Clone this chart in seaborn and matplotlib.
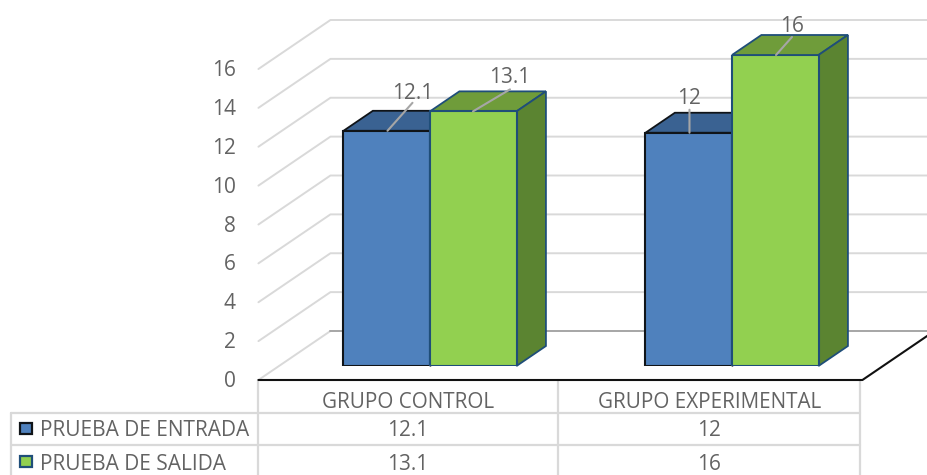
import matplotlib
matplotlib.use("Agg")
import matplotlib.pyplot as plt
import pandas as pd
import seaborn as sns
from matplotlib.patches import Polygon, Rectangle
from matplotlib.transforms import Affine2D

categories = ["GRUPO CONTROL", "GRUPO EXPERIMENTAL"]
series_names = ["PRUEBA DE ENTRADA", "PRUEBA DE SALIDA"]
entrada = [12.1, 12]
salida = [13.1, 16]
value_labels = ["12.1", "12", "13.1", "16"]
y_ticks = [0, 2, 4, 6, 8, 10, 12, 14, 16]

W, H = 927, 475
TEXT = "#636363"
GRID = "#d9d9d9"
SLOPE = 1.47
FLOOR_FRONT = -14
FLOOR_BACK = 35
BAR_DEPTH = 20

front_cols = ["#4f81bd", "#92d050"]
top_cols = ["#3a6292", "#6f9c3a"]
side_cols = ["#34597f", "#5b8431"]
edge_cols = ["#101418", "#1f4e79"]

df = pd.DataFrame({
    "grupo": categories * 2,
    "prueba": [series_names[0]] * 2 + [series_names[1]] * 2,
    "valor": entrada + salida,
})

sns.set_theme(style="white")
plt.rcParams["font.family"] = ["Open Sans", "DejaVu Sans"]

fig = plt.figure(figsize=(W / 100, H / 100), dpi=100, facecolor="w")
# axes = plane of the bars' front faces
ax = fig.add_axes([279 / W, (H - 366) / H, 604 / W, 311 / H])
ax.patch.set_alpha(0)
sns.barplot(data=df, x="grupo", y="valor", hue="prueba", order=categories,
            hue_order=series_names, palette=front_cols, width=0.573, gap=0,
            saturation=1, legend=False, ax=ax, zorder=3)
ax.set_xlim(-0.5, 1.5)
ax.set_ylim(0, 16)
for s in ax.spines.values():
    s.set_visible(False)
ax.set_xlabel("")
ax.set_ylabel("")


def at_depth(d):
    # data transform pushed back by d pixels along the oblique axis
    return ax.transData + Affine2D().translate(SLOPE * d, d)


# walls: grid lines on the left wall and back wall
for v in y_ticks[1:]:
    p0 = at_depth(FLOOR_FRONT).transform((-0.5, v))
    p1 = at_depth(FLOOR_BACK).transform((-0.5, v))
    p2 = at_depth(FLOOR_BACK).transform((1.5, v))
    fig.add_artist(plt.Line2D([p0[0] / W, p1[0] / W, p2[0] / W],
                              [p0[1] / H, p1[1] / H, p2[1] / H],
                              color=GRID, lw=1.4, zorder=0))

# floor
p0 = at_depth(FLOOR_FRONT).transform((-0.5, 0))
p1 = at_depth(FLOOR_BACK).transform((-0.5, 0))
p2 = at_depth(FLOOR_BACK).transform((1.5, 0))
p3 = at_depth(FLOOR_FRONT).transform((1.5, 0))
fig.add_artist(plt.Line2D([p0[0] / W, p1[0] / W], [p0[1] / H, p1[1] / H],
                          color=GRID, lw=1.4, zorder=0))
fig.add_artist(plt.Line2D([p1[0] / W, p2[0] / W], [p1[1] / H, p2[1] / H],
                          color="#a6a6a6", lw=1.4, zorder=0))
fig.add_artist(plt.Line2D([p0[0] / W, p3[0] / W, p2[0] / W],
                          [p0[1] / H, p3[1] / H, p2[1] / H],
                          color="#111111", lw=1.5, zorder=1))

# bar tops and sides, taken from the bars seaborn drew
bars = [b for b in ax.patches if b.get_height() > 0]
for i, bar in enumerate(bars):
    k = i // 2
    x0, x1 = bar.get_x(), bar.get_x() + bar.get_width()
    h = bar.get_height()
    bar.set_edgecolor(edge_cols[k])
    bar.set_linewidth(1.5)
    bar.set_zorder(3 + k)
    back = at_depth(BAR_DEPTH)
    front = ax.transData
    top = [front.transform((x0, h)), front.transform((x1, h)),
           back.transform((x1, h)), back.transform((x0, h))]
    side = [front.transform((x1, 0)), front.transform((x1, h)),
            back.transform((x1, h)), back.transform((x1, 0))]
    for pts, col in ((top, top_cols[k]), (side, side_cols[k])):
        fig_pts = [(px / W, py / H) for px, py in pts]
        poly = Polygon(fig_pts, closed=True, transform=fig.transFigure,
                       facecolor=col, edgecolor=edge_cols[k], lw=1.3)
        poly.set_clip_on(False)
        poly.set_zorder(2.5 + k)
        ax.add_patch(poly)

# data labels with leader lines: (leader start dx, leader end dx, dy, label dx, dy)
leaders = [(44, 69, 28, 69, 37), (44, 44, 23, 44, 34),
           (43, 80, 22, 80, 34), (44, 60, 18, 60, 28)]
for bar, txt, (dx0, dx1, dy1, tx, ty) in zip(bars, value_labels, leaders):
    x0 = ax.transData.transform((bar.get_x(), bar.get_height()))
    ax.annotate("", xy=(x0[0] + dx1, x0[1] + dy1), xytext=(x0[0] + dx0, x0[1]),
                xycoords="figure pixels", textcoords="figure pixels",
                arrowprops=dict(arrowstyle="-", color="#a6a6a6", lw=1.5,
                                shrinkA=0, shrinkB=0), zorder=8, annotation_clip=False)
    ax.annotate(txt, xy=(x0[0] + tx, x0[1] + ty), xycoords="figure pixels",
                ha="center", va="center", fontsize=15, color=TEXT, zorder=9,
                annotation_clip=False)

# y tick labels sit on the front edge of the left wall
ax.set_yticks(y_ticks)
ax.tick_params(axis="y", length=0, pad=31, labelsize=15, labelcolor=TEXT)
for lab in ax.get_yticklabels():
    lab.set_transform(lab.get_transform() + Affine2D().translate(0, FLOOR_FRONT + 1))

# category labels form the table's header row, centred on the table cells
ax.set_xticks([0, 1], categories)
ax.tick_params(axis="x", length=0, pad=18.6, labelsize=14.9, labelcolor=TEXT)
for lab in ax.get_xticklabels():
    lab.set_transform(lab.get_transform() + Affine2D().translate(-22, 0))

# data table
tb = fig.add_axes([0, 0, 1, 1], zorder=-1)
tb.set_xlim(0, W)
tb.set_ylim(H, 0)
tb.axis("off")
col_x = [258, 558, 860]
row_y = [413, 445]
tb.plot([258, 258], [380, H], color=GRID, lw=1.6)
tb.plot([558, 558], [380, H], color=GRID, lw=1.6)
tb.plot([860, 860], [380, H], color=GRID, lw=1.6)
tb.plot([11, 11], [413, H], color=GRID, lw=1.6)
for y in row_y:
    tb.plot([11, 860], [y, y], color=GRID, lw=1.6)
rows = [entrada, salida]
for i, name in enumerate(series_names):
    y = 429 + i * 33
    tb.add_patch(Rectangle((20, y - 6.5), 12, 11, facecolor=front_cols[i],
                           edgecolor=edge_cols[i], lw=1.6))
    tb.text(40, y + 2, name, ha="left", va="center", fontsize=15, color=TEXT)
    for j, v in enumerate(rows[i]):
        tb.text((col_x[j] + col_x[j + 1]) / 2, y + 2, f"{v:g}", ha="center",
                va="center", fontsize=15, color=TEXT)

fig.savefig("out.png", dpi=100)
